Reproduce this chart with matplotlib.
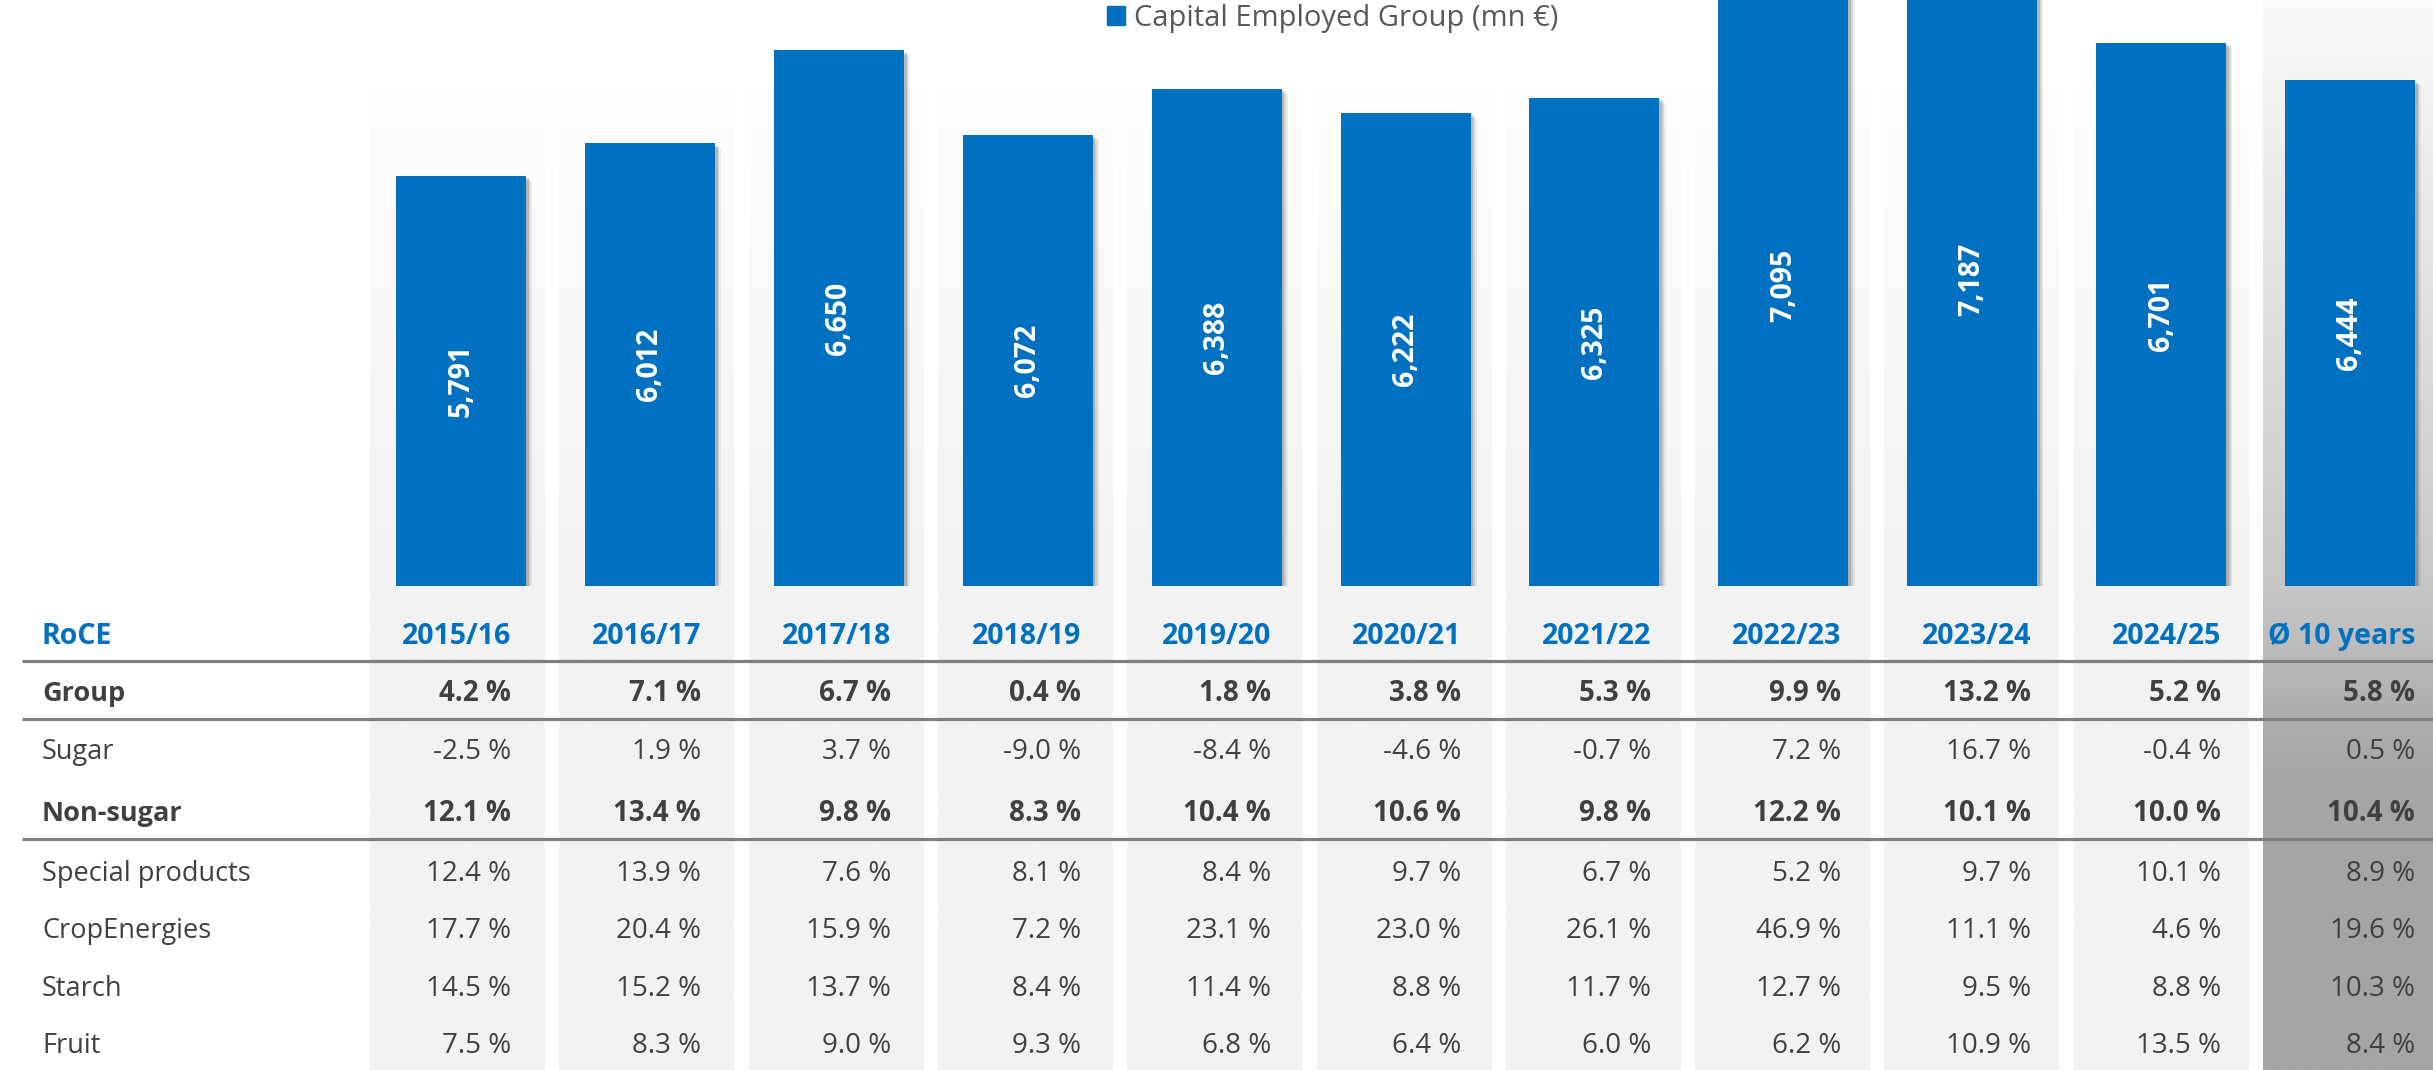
import numpy as np
import matplotlib
matplotlib.use("Agg")
import matplotlib.pyplot as plt
import matplotlib.patches as mpatches
import matplotlib.patheffects as pe
from matplotlib.colors import to_rgb

plt.rcParams["font.family"] = ["Open Sans", "DejaVu Sans"]

# ---- data -------------------------------------------------------------
years = ["2015/16", "2016/17", "2017/18", "2018/19", "2019/20",
         "2020/21", "2021/22", "2022/23", "2023/24", "2024/25"]
avg_label = "Ø 10 years"

capital_employed = [5791, 6012, 6650, 6072, 6388, 6222, 6325, 7095, 7187, 6701]
capital_employed_avg = 6444

row_names = ["Group", "Sugar", "Non-sugar", "Special products",
             "CropEnergies", "Starch", "Fruit"]
row_bold = [True, False, True, False, False, False, False]

roce_group = [4.2, 7.1, 6.7, 0.4, 1.8, 3.8, 5.3, 9.9, 13.2, 5.2]
roce_sugar = [-2.5, 1.9, 3.7, -9.0, -8.4, -4.6, -0.7, 7.2, 16.7, -0.4]
roce_non_sugar = [12.1, 13.4, 9.8, 8.3, 10.4, 10.6, 9.8, 12.2, 10.1, 10.0]
roce_special = [12.4, 13.9, 7.6, 8.1, 8.4, 9.7, 6.7, 5.2, 9.7, 10.1]
roce_crop = [17.7, 20.4, 15.9, 7.2, 23.1, 23.0, 26.1, 46.9, 11.1, 4.6]
roce_starch = [14.5, 15.2, 13.7, 8.4, 11.4, 8.8, 11.7, 12.7, 9.5, 8.8]
roce_fruit = [7.5, 8.3, 9.0, 9.3, 6.8, 6.4, 6.0, 6.2, 10.9, 13.5]
roce_avg = [5.8, 0.5, 10.4, 8.9, 19.6, 10.3, 8.4]

roce_rows = [roce_group, roce_sugar, roce_non_sugar, roce_special,
             roce_crop, roce_starch, roce_fruit]

# ---- style ------------------------------------------------------------
BLUE = "#0070C0"
TEXT = "#404040"
LEGEND_TEXT = "#595959"
RULE = "#7f7f7f"

W, H = 2433, 1070
fig = plt.figure(figsize=(W / 100, H / 100), dpi=100)

# background / table layer in pixel units (y grows downward)
ax_bg = fig.add_axes([0, 0, 1, 1], zorder=0)
ax_bg.set_xlim(0, W)
ax_bg.set_ylim(H, 0)
ax_bg.axis("off")


def vgradient(ax, x0, x1, stops):
    ys = np.arange(stops[0][0], H + 1)
    cols = np.array([to_rgb(c) for _, c in stops])
    sy = [s for s, _ in stops]
    img = np.stack([np.interp(ys, sy, cols[:, k]) for k in range(3)], axis=-1)
    img = img[:, None, :]
    ax.imshow(img, extent=(x0, x1, H, stops[0][0]), aspect="auto",
              interpolation="bilinear", zorder=0)


col_stops = [(88, "#fefefe"), (570, "#f2f2f2"), (H, "#f2f2f2")]
avg_stops = [(0, "#fafafa"), (400, "#d8d8d8"), (590, "#c6c6c6"),
             (640, "#bdbdbd"), (720, "#adadad"), (780, "#a6a6a6"),
             (H, "#a5a5a5")]

n = len(years)
for i in range(n):
    x0 = 370 + 189.3 * i
    vgradient(ax_bg, x0, x0 + 175, col_stops)
vgradient(ax_bg, 370 + 189.3 * n, W, avg_stops)

# horizontal rules of the table
for y in (661, 719, 839):
    ax_bg.plot([22, W], [y, y], color=RULE, lw=2.3, solid_capstyle="butt",
               zorder=3)

# header row
value_right = [511 + 190 * i for i in range(n)] + [2415]
header_base = 644
ax_bg.text(42, header_base, "RoCE", color=BLUE, fontsize=20.5,
           fontweight="bold", ha="left", va="baseline", zorder=4)
for xr, lab in zip(value_right, years + [avg_label]):
    ax_bg.text(xr, header_base, lab, color=BLUE, fontsize=20.5,
               fontweight="bold", ha="right", va="baseline", zorder=4)

# body rows
row_base = [701, 759, 821, 881, 938, 996, 1053]
for name, bold, vals, avg, yb in zip(row_names, row_bold, roce_rows,
                                     roce_avg, row_base):
    w = "bold" if bold else "normal"
    ax_bg.text(42, yb, name, color=TEXT, fontsize=19.5, fontweight=w,
               ha="left", va="baseline", zorder=4)
    for xr, v in zip(value_right, list(vals) + [avg]):
        ax_bg.text(xr, yb, f"{v:.1f} %", color=TEXT, fontsize=20,
                   fontweight=w, ha="right", va="baseline", zorder=4)

# ---- bar chart --------------------------------------------------------
bar_bottom_px = 586
ax = fig.add_axes([0, 1 - bar_bottom_px / H, 1, bar_bottom_px / H], zorder=1)
ax.patch.set_visible(False)
ax.axis("off")

pitch, first_center = 188.9, 461
ax.set_xlim(-first_center / pitch, (W - first_center) / pitch)
ax.set_ylim(2980, 6995)

bar_values = capital_employed + [capital_employed_avg]
xpos = np.arange(len(bar_values))
shadow = [pe.SimplePatchShadow(offset=(d, -d * 0.8), shadow_rgbFace="black",
                               alpha=a)
          for d, a in ((4.5, 0.06), (3.2, 0.10), (2.0, 0.14))]
bars = ax.bar(xpos, bar_values, width=130 / pitch, color=BLUE,
              path_effects=shadow + [pe.Normal()], zorder=2)

y_lo = ax.get_ylim()[0]
for x, v in zip(xpos, bar_values):
    ax.text(x, (v + y_lo) / 2, f"{v:,}", rotation=90, color="white",
            fontsize=20.5, fontweight="bold", ha="center", va="center",
            zorder=3)

legend_handle = mpatches.Patch(color=BLUE, label="Capital Employed Group (mn €)")
fig.legend(handles=[legend_handle], loc="upper left",
           bbox_to_anchor=(1107 / W, 1 - 4 / H), frameon=False,
           fontsize=21, labelcolor=LEGEND_TEXT, borderpad=0,
           borderaxespad=0, handlelength=0.62, handleheight=0.62,
           handletextpad=0.3)

fig.savefig("out.png", dpi=100)
